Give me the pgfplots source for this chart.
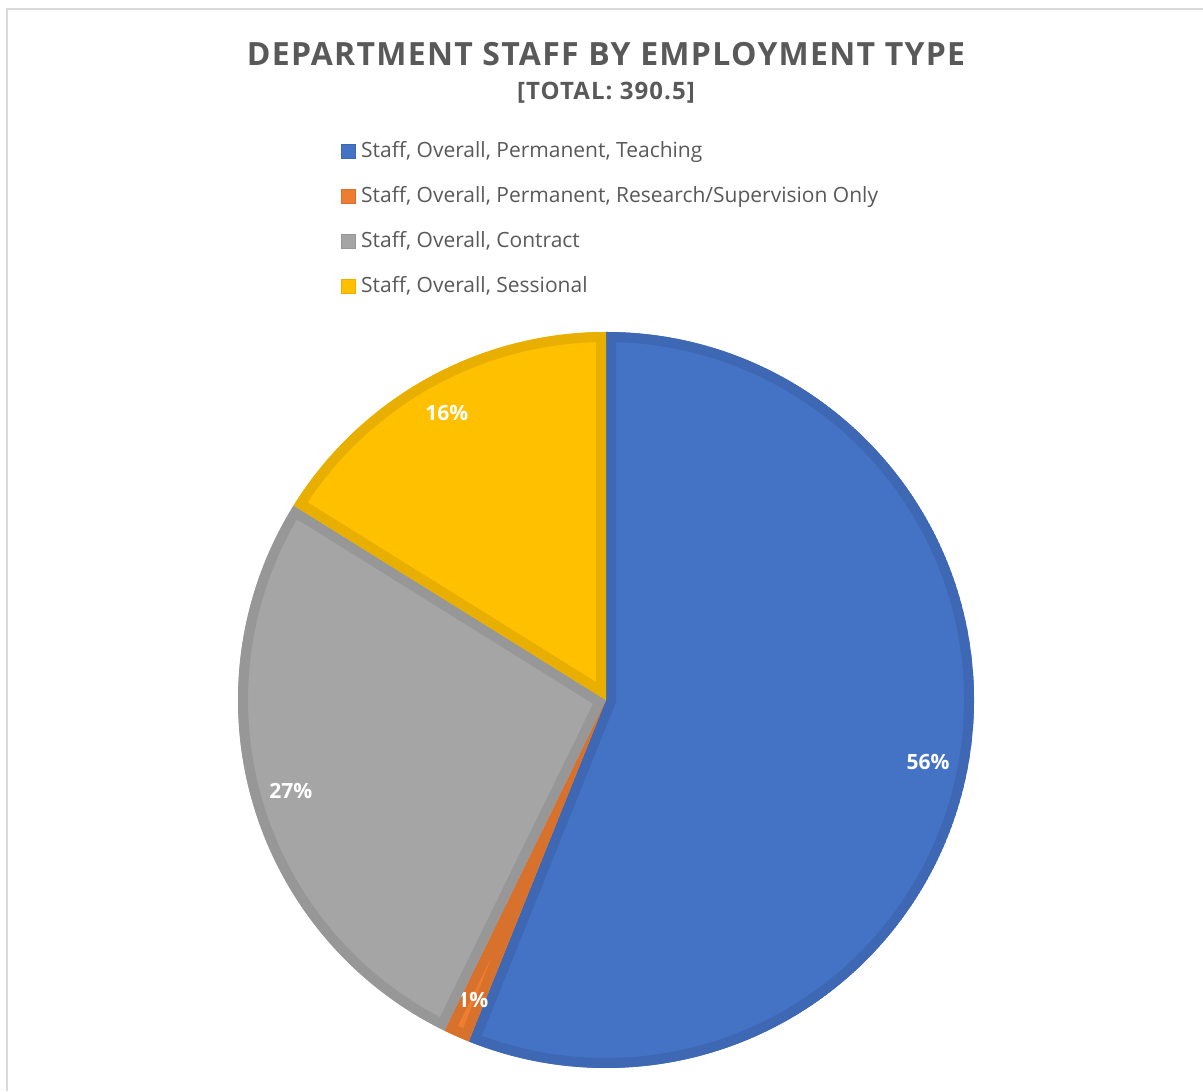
\documentclass[border=0pt]{standalone}
\usepackage{pgfplots}
\pgfplotsset{compat=1.18}
\usepackage{pgfplotstable}
\usepackage{fontspec}
\setmainfont{Open Sans}

\definecolor{teach}{HTML}{4472C4}  \definecolor{teachD}{HTML}{3E68B4}
\definecolor{resch}{HTML}{ED7D31}  \definecolor{reschD}{HTML}{D8712C}
\definecolor{contr}{HTML}{A5A5A5}  \definecolor{contrD}{HTML}{979797}
\definecolor{sess}{HTML}{FFC000}   \definecolor{sessD}{HTML}{E8AF00}
\definecolor{titlegray}{HTML}{595959}
\definecolor{framegray}{HTML}{D9D9D9}

% staff counts (total 390.5)
\pgfplotstableread{
type value
Teaching 219
Research 4.5
Contract 104
Sessional 63
}\staffdata

\pgfplotstablegetelem{0}{value}\of\staffdata \let\va\pgfplotsretval
\pgfplotstablegetelem{1}{value}\of\staffdata \let\vb\pgfplotsretval
\pgfplotstablegetelem{2}{value}\of\staffdata \let\vc\pgfplotsretval
\pgfplotstablegetelem{3}{value}\of\staffdata \let\vd\pgfplotsretval
\pgfmathsetmacro\total{\va+\vb+\vc+\vd}
% slice boundaries, clockwise from 12 o'clock
\pgfmathsetmacro\aA{90}
\pgfmathsetmacro\aB{\aA-360*(\va/\total)}
\pgfmathsetmacro\aC{\aB-360*(\vb/\total)}
\pgfmathsetmacro\aD{\aC-360*(\vc/\total)}
\pgfmathsetmacro\aE{\aD-360*(\vd/\total)}
\pgfmathsetmacro\pa{int(round(100*(\va/\total)))}
\pgfmathsetmacro\pb{int(round(100*(\vb/\total)))}
\pgfmathsetmacro\pc{int(round(100*(\vc/\total)))}
\pgfmathsetmacro\pd{int(round(100*(\vd/\total)))}

\newcommand\slice[5]{%
  \begin{scope}
    \clip (axis cs:606,391) -- ++(#1:184pt) arc[start angle=#1, end angle=#2, radius=184pt] -- cycle;
    \fill[#3] (axis cs:606,391) -- ++(#1:184pt) arc[start angle=#1, end angle=#2, radius=184pt] -- cycle;
    \draw[#4, line width=10pt, line join=miter] (axis cs:606,391) -- ++(#1:184pt) arc[start angle=#1, end angle=#2, radius=184pt] -- cycle;
  \end{scope}
  \path (axis cs:606,391) ++({(#1+#2)/2}:164pt) node[text=white, font=\bfseries\fontsize{10.5}{12}\selectfont] {#5\%};
}

\begin{document}
\begin{tikzpicture}
\begin{axis}[
  x=0.5pt, y=0.5pt,
  xmin=0, xmax=1203, ymin=0, ymax=1091,
  hide axis, clip=false,
  legend cell align=left,
  legend image code/.code={\draw[#1] (0pt,-3.5pt) rectangle (7pt,3.5pt);},
  legend style={
    at={(axis cs:341,950)}, anchor=north west,
    draw=none, fill=none, inner sep=0pt,
    font=\fontsize{10.5}{12}\selectfont, text=titlegray,
    nodes={inner sep=0pt, text height=8pt, text depth=2.5pt},
    row sep=12pt, column sep=2.5pt,
  },
]
\addlegendimage{fill=teach, draw=teachD, line width=0.4pt}
\addlegendentry{Staff, Overall, Permanent, Teaching}
\addlegendimage{fill=resch, draw=reschD, line width=0.4pt}
\addlegendentry{Staff, Overall, Permanent, Research/Supervision Only}
\addlegendimage{fill=contr, draw=contrD, line width=0.4pt}
\addlegendentry{Staff, Overall, Contract}
\addlegendimage{fill=sess, draw=sessD, line width=0.4pt}
\addlegendentry{Staff, Overall, Sessional}

\draw[framegray, line width=1pt] (axis cs:7,0) -- (axis cs:7,1082) -- (axis cs:1203,1082);

\slice{\aA}{\aB}{teach}{teachD}{\pa}
\slice{\aB}{\aC}{resch}{reschD}{\pb}
\slice{\aC}{\aD}{contr}{contrD}{\pc}
\slice{\aD}{\aE}{sess}{sessD}{\pd}

\node[text=titlegray, font=\bfseries\fontsize{16}{19}\selectfont\addfontfeatures{LetterSpace=4}] at (axis cs:606,1037) {DEPARTMENT STAFF BY EMPLOYMENT TYPE};
\node[text=titlegray, font=\bfseries\fontsize{12}{14}\selectfont\addfontfeatures{LetterSpace=4.5}] at (axis cs:606,998) {[TOTAL: 390.5]};
\end{axis}
\pgfresetboundingbox
\path[use as bounding box] (0,0) rectangle (601.5pt,545.5pt);
\end{tikzpicture}
\end{document}
